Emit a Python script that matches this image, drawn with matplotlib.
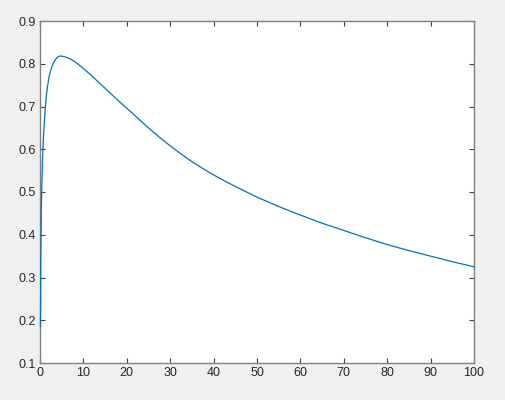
import matplotlib
matplotlib.use('Agg')
import matplotlib.pyplot as plt

# values
x = [0.1, 0.2, 0.3, 0.4, 0.55, 0.76, 1.0, 1.25, 1.5, 1.75, 2.1, 2.5, 3.0,
     3.5, 4.0, 4.5, 5.0, 6.0, 7.0, 8.0, 9.0, 10, 12, 14, 16, 18,
     20, 22.5, 25, 27.5, 30, 32.5, 35, 37.5, 40, 42.5, 45, 47.5, 50, 55, 60,
     65, 70, 75, 80, 85, 90, 95, 100]
y = [0.185, 0.36, 0.45, 0.505, 0.565, 0.622, 0.664, 0.700, 0.728, 0.748,
     0.770, 0.786, 0.800, 0.809, 0.815, 0.818, 0.8178, 0.8155, 0.811, 0.805,
     0.797, 0.789, 0.771, 0.752, 0.733, 0.714, 0.696, 0.673, 0.650, 0.628,
     0.608, 0.589, 0.571, 0.555, 0.540, 0.526, 0.513, 0.5005, 0.488, 0.466,
     0.446, 0.427, 0.410, 0.393, 0.377, 0.363, 0.350, 0.337, 0.325]

xticks = [0, 10, 20, 30, 40, 50, 60, 70, 80, 90, 100]
yticks = [0.1, 0.2, 0.3, 0.4, 0.5, 0.6, 0.7, 0.8, 0.9]

plt.rcParams['font.family'] = ['Liberation Sans', 'DejaVu Sans']

fig = plt.figure(figsize=(5.06, 4.00), dpi=100, facecolor='#f0f0f0')
ax = fig.add_axes([40/506, 37/400, 434/506, 342/400])
# line on top of the spines, like the reference
ax.plot(x, y, color='#0072bd', lw=0.9, solid_joinstyle='round',
        zorder=3, clip_on=False)

ax.set_xlim(0, 100)
ax.set_ylim(0.1, 0.9)
ax.set_xticks(xticks)
ax.set_yticks(yticks)
ax.set_xticklabels([str(t) for t in xticks])
ax.set_yticklabels(['%.1f' % t for t in yticks])

for s in ax.spines.values():
    s.set_color('#808080')
    s.set_linewidth(1.0)
ax.tick_params(direction='in', length=3.5, width=0.8, color='#404040',
               labelsize=9, labelcolor='#262626', top=True, right=True, pad=3)

fig.savefig('out.png', dpi=100, facecolor=fig.get_facecolor())
